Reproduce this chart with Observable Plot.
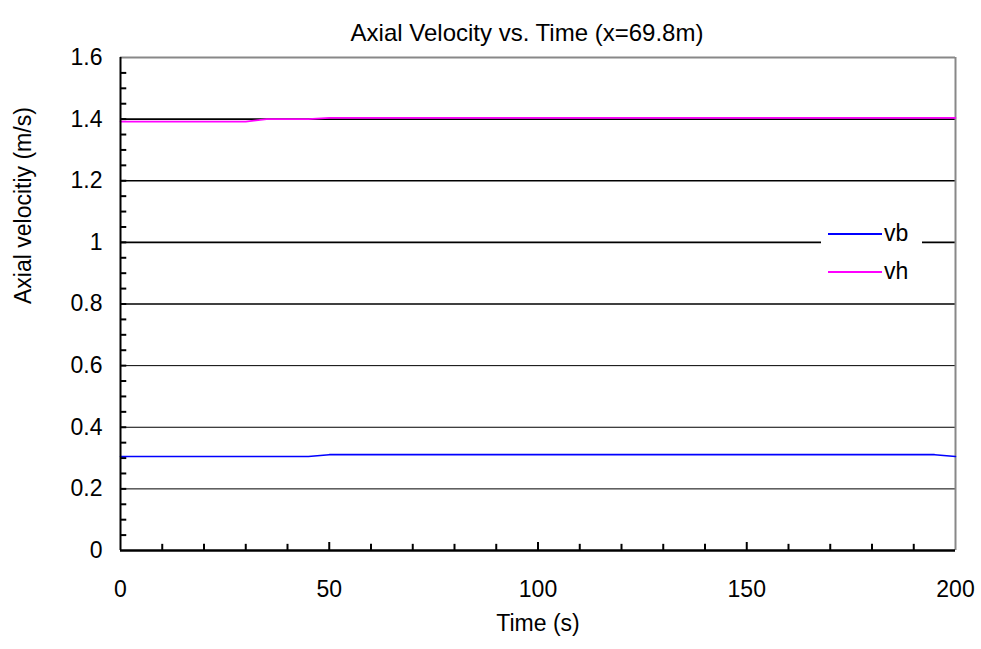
<!DOCTYPE html>
<html>
<head>
<meta charset="utf-8">
<script src="https://cdn.jsdelivr.net/npm/d3@7"></script>
<script src="https://cdn.jsdelivr.net/npm/@observablehq/plot@0.6"></script>
<style>
  body { margin: 0; background: #fff; font-family: "Liberation Sans", Arial, sans-serif; }
  #wrap { position: relative; width: 981px; height: 649px; }
  #legend { position: absolute; left: 821px; top: 215px; width: 101px; height: 75px; background: #fff;
            font-family: "Liberation Sans", Arial, sans-serif; font-size: 23px; color: #000; }
  .row { position: absolute; left: 0; width: 101px; height: 24px; }
  .sw { position: absolute; left: 7px; top: 11px; width: 54px; height: 2px; }
  .lb { position: absolute; left: 63px; top: -1px; line-height: 24px; }
</style>
</head>
<body>
<div id="wrap"></div>
<script>
const timeB = [0, 45, 50, 100, 150, 195, 200];
const vb    = [0.305, 0.305, 0.311, 0.311, 0.311, 0.311, 0.305];
const timeH = [0, 30, 35, 45, 50, 100, 150, 200];
const vh    = [1.392, 1.392, 1.40, 1.40, 1.404, 1.404, 1.404, 1.404];
const xTicks = [0, 50, 100, 150, 200];
const yTicks = [0, 0.2, 0.4, 0.6, 0.8, 1, 1.2, 1.4, 1.6];
const xMinor = d3.range(10, 200, 10);
const yMinor = d3.range(1, 32).map(i => i * 0.05);
const series = [
  {name: "vb", color: "#0000ff", t: timeB, v: vb},
  {name: "vh", color: "#ff00ff", t: timeH, v: vh}
];
const legendY = [234, 272];
const rows = series.flatMap(s => s.t.map((t, i) => ({series: s.name, t, v: s.v[i]})));
const gridThin = [0.2, 0.4, 0.6];
const gridThick = [0.8, 1, 1.2, 1.4];

const chart = Plot.plot({
  width: 981,
  height: 649,
  marginLeft: 120,
  marginRight: 26,
  marginTop: 57,
  marginBottom: 99,
  style: {fontFamily: "Liberation Sans, Arial, sans-serif", background: "#fff"},
  x: {domain: [0, 200]},
  y: {domain: [0, 1.6]},
  marks: [
    Plot.ruleY(gridThin, {x1: 0, x2: 200, stroke: "#000", strokeWidth: 1}),
    Plot.ruleY(gridThick, {x1: 0, x2: 200, stroke: "#000", strokeWidth: 1.6}),
    Plot.ruleX(xMinor, {y1: 0, y2: d => d % 50 === 0 ? 0.026 : 0.02, stroke: "#000", strokeWidth: 2}),
    Plot.ruleY(yMinor, {x1: 0, x2: 1.5, stroke: "#000", strokeWidth: 2}),
    Plot.ruleY([1.6], {x1: 0, x2: 200, stroke: "#888", strokeWidth: 2}),
    Plot.ruleX([200], {y1: 0, y2: 1.6, stroke: "#888", strokeWidth: 2}),
    Plot.line(rows, {x: "t", y: "v", z: "series", stroke: d => d.series === "vb" ? "#0000ff" : "#ff00ff", strokeWidth: 1.6}),
    Plot.ruleX([0], {y1: 0, y2: 1.6, stroke: "#000", strokeWidth: 2}),
    Plot.ruleY([0], {x1: 0, x2: 200, stroke: "#000", strokeWidth: 2.5}),
    Plot.axisY({ticks: yTicks, tickSize: 0, tickPadding: 18, fontSize: 23, tickFormat: d => String(d), label: null}),
    Plot.axisX({ticks: xTicks, tickSize: 0, tickPadding: 30, fontSize: 23, tickFormat: d => String(d), label: null}),
    Plot.text(["Axial Velocity vs. Time (x=69.8m)"], {frameAnchor: "top", dx: -11, dy: -34, fontSize: 24, fill: "#000"}),
    Plot.text(["Time (s)"], {frameAnchor: "bottom", dy: 80, fontSize: 23, fill: "#000"}),
    Plot.text(["Axial velocitiy (m/s)"], {frameAnchor: "left", dx: -97, rotate: -90, fontSize: 23, fill: "#000"})
  ]
});
const wrap = document.getElementById("wrap");
wrap.appendChild(chart);

const legend = document.createElement("div");
legend.id = "legend";
series.forEach((s, i) => {
  const row = document.createElement("div");
  row.className = "row";
  row.style.top = (legendY[i] - 215 - 12) + "px";
  row.innerHTML = `<div class="sw" style="background:${s.color}"></div><div class="lb">${s.name}</div>`;
  legend.appendChild(row);
});
wrap.appendChild(legend);
</script>
</body>
</html>
